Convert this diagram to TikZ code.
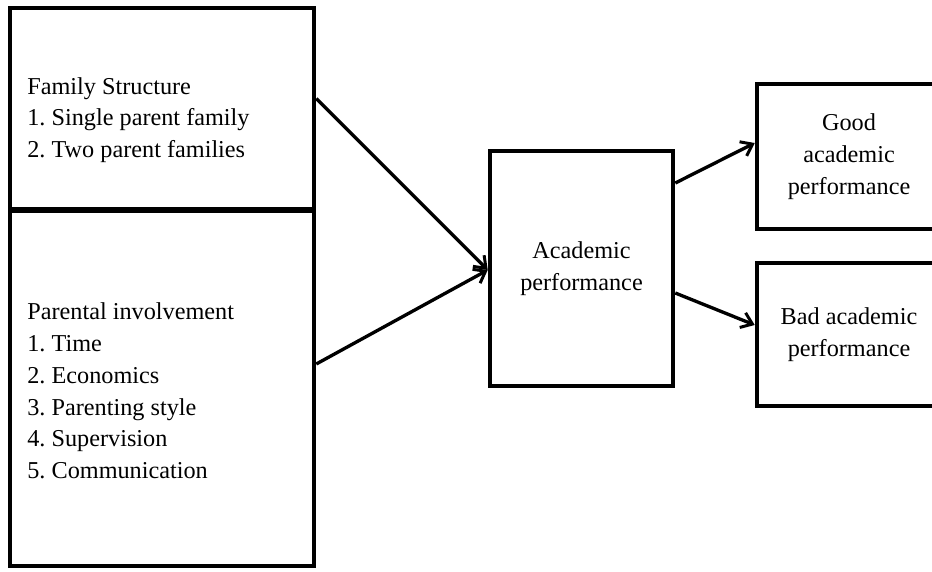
\documentclass[tikz,border=0pt]{standalone}
\usepackage{fontspec}
\setmainfont{Liberation Serif}
\usetikzlibrary{arrows.meta}

\begin{document}
\frenchspacing
\begin{tikzpicture}[x=0.02cm, y=-0.02cm,
    box/.style={draw, line width=2.6pt, inner sep=0pt},
    txt/.style={align=left, inner sep=0pt, anchor=west},
    link/.style={line width=1.9pt, -{Straight Barb[length=6pt, width=9pt, line width=1.7pt]}},
    font=\fontsize{13.8}{18.1}\selectfont]
  \useasboundingbox (0,0) rectangle (932,571);
  % left column
  \node[box, minimum width=6.08cm, minimum height=4.02cm] (fam) at (162,108.5) {};
  \node[box, minimum width=6.08cm, minimum height=7.1cm] (par) at (162,388.5) {};
  \node[txt] (famtxt) at (27,120) {Family Structure\\1. Single parent family\\2. Two parent families};
  \node[txt] (partxt) at (27,391) {Parental involvement\\1. Time\\2. Economics\\3. Parenting style\\4. Supervision\\5. Communication};
  % middle and outcomes
  \node[box, align=center, minimum width=3.66cm, minimum height=4.7cm] (mid) at (581.5,268.5) {Academic\\performance};
  \node[box, align=center, minimum width=3.68cm, minimum height=2.9cm] (good) at (849,156.5) {Good\\academic\\performance};
  \node[box, align=center, minimum width=3.68cm, minimum height=2.86cm] (bad) at (849,334.5) {Bad academic\\performance};
  \draw[link] ([yshift=0.2cm]fam.east) -- ([yshift=-0.03cm]mid.west);
  \draw[link] ([yshift=0.49cm]par.east) -- ([yshift=-0.03cm]mid.west);
  \draw[link] ([yshift=1.71cm]mid.east) -- ([yshift=0.27cm]good.west);
  \draw[link] ([yshift=-0.49cm]mid.east) -- ([yshift=0.19cm]bad.west);
\end{tikzpicture}
\end{document}
